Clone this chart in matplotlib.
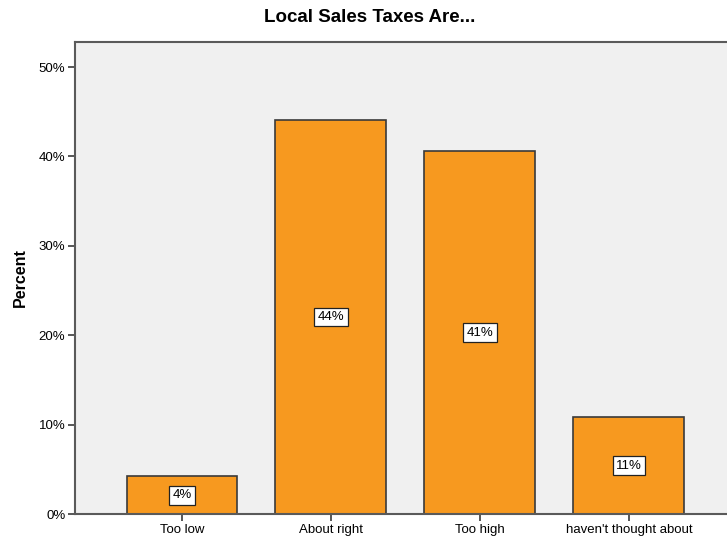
import numpy as np
import matplotlib.pyplot as plt

categories = ["Too low", "About right", "Too high", "haven't thought about"]
percents = [4.2, 44.1, 40.6, 10.8]
bar_labels = ["4%", "44%", "41%", "11%"]
yticks = [0, 10, 20, 30, 40, 50]

plt.rcParams['font.family'] = ['Liberation Sans', 'DejaVu Sans']

fig = plt.figure(figsize=(7.27, 5.4), dpi=100)
ax = fig.add_axes([0.1032, 0.0481, 0.8968, 0.8741])
ax.set_facecolor('#f0f0f0')

x = np.arange(len(categories))
ax.bar(x, percents, width=0.745, color='#f7991f', edgecolor='#3a3a3a', linewidth=1.2, zorder=2)

# value boxes at half bar height
for xi, v, lab in zip(x, percents, bar_labels):
    ax.text(xi, v / 2, lab, ha='center', va='center', fontsize=9.5, zorder=3,
            bbox=dict(boxstyle='square,pad=0.25', facecolor='white', edgecolor='#222222', linewidth=0.9))

ax.set_xlim(-0.718, 3.658)
ax.set_ylim(0, 52.8)
ax.set_xticks(x)
ax.set_xticklabels(categories, fontsize=9.5)
ax.set_yticks(yticks)
ax.set_yticklabels([f"{t}%" for t in yticks], fontsize=9.5)
ax.tick_params(axis='both', length=5, width=1.2, color='#3a3a3a', pad=2)

for side in ['top', 'left', 'bottom']:
    ax.spines[side].set_color('#5a5a5a')
    ax.spines[side].set_linewidth(1.5)
ax.spines['right'].set_visible(False)

ax.set_ylabel('Percent', fontsize=11.5, fontweight='bold', labelpad=8)
fig.text(0.509, 0.968, 'Local Sales Taxes Are...', ha='center', va='center',
         fontsize=13.5, fontweight='bold')

fig.savefig('out.png', dpi=100)
